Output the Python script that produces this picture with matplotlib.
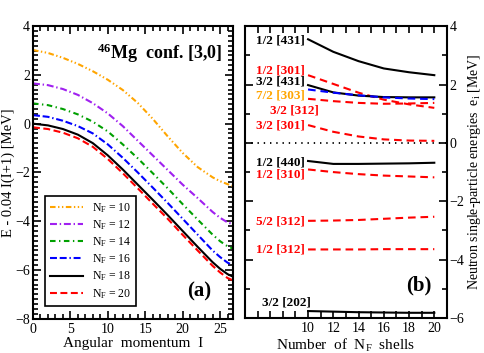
"""Rotational band of 46Mg and neutron single-particle energies vs N_F."""

import matplotlib
matplotlib.use('Agg')
import matplotlib.pyplot as plt
from matplotlib import ticker

plt.rcParams['font.family'] = ['Liberation Serif', 'DejaVu Serif']
plt.rcParams['mathtext.fontset'] = 'custom'
plt.rcParams['mathtext.rm'] = 'Liberation Serif'
plt.rcParams['mathtext.it'] = 'Liberation Serif:italic'
plt.rcParams['mathtext.bf'] = 'Liberation Serif:bold'
plt.rcParams['lines.scale_dashes'] = False

# ---- panel (a): E - 0.04 I(I+1) vs angular momentum
spin = [0, 2, 4, 6, 8, 10, 12, 14, 16, 18, 20, 22, 24, 25, 26, 26.7]
e_nf10 = [3.02, 2.90, 2.70, 2.45, 2.15, 1.80, 1.38, 0.85, 0.20, -0.52,
          -1.20, -1.78, -2.20, -2.36, -2.48, -2.55]
e_nf12 = [1.65, 1.58, 1.42, 1.18, 0.84, 0.42, -0.10, -0.70, -1.30, -1.90,
          -2.50, -3.05, -3.62, -3.86, -4.05, -4.12]
e_nf14 = [0.83, 0.76, 0.60, 0.38, 0.08, -0.32, -0.85, -1.42, -2.03, -2.65,
          -3.30, -3.93, -4.55, -4.82, -5.03, -5.12]
e_nf16 = [0.35, 0.28, 0.12, -0.10, -0.40, -0.85, -1.40, -2.00, -2.62, -3.25,
          -3.90, -4.55, -5.20, -5.47, -5.70, -5.80]
e_nf18 = [0.00, -0.07, -0.22, -0.45, -0.80, -1.30, -1.88, -2.50, -3.12, -3.75,
          -4.40, -5.05, -5.68, -5.95, -6.17, -6.27]
e_nf20 = [-0.15, -0.22, -0.37, -0.60, -0.95, -1.45, -2.03, -2.65, -3.28, -3.90,
          -4.56, -5.20, -5.83, -6.10, -6.33, -6.42]
nf_labels = ['10', '12', '14', '16', '18', '20']

# ---- panel (b): neutron single-particle energies vs number of shells
n_shells = [10, 12, 14, 16, 18, 20]
orbit_names = ['1/2 [431]', '1/2 [301]', '3/2 [431]', '7/2 [303]', '3/2 [312]',
               '3/2 [301]', '1/2 [440]', '1/2 [310]', '5/2 [312]', '1/2 [312]',
               '3/2 [202]']
orbit_energies = [
    [3.55, 3.12, 2.80, 2.55, 2.42, 2.32],
    [2.32, 2.02, 1.72, 1.48, 1.32, 1.20],
    [1.98, 1.73, 1.62, 1.57, 1.56, 1.56],
    [1.83, 1.72, 1.63, 1.56, 1.52, 1.50],
    [1.51, 1.43, 1.37, 1.34, 1.35, 1.37],
    [0.61, 0.38, 0.22, 0.12, 0.08, 0.07],
    [-0.62, -0.72, -0.72, -0.71, -0.70, -0.68],
    [-0.91, -1.00, -1.07, -1.12, -1.15, -1.18],
    [-2.67, -2.66, -2.64, -2.60, -2.56, -2.53],
    [-3.65, -3.65, -3.65, -3.64, -3.64, -3.64],
    [-5.76, -5.78, -5.80, -5.81, -5.82, -5.82],
]
orbit_label_y = [3.52, 2.49, 2.09, 1.61, 1.12, 0.61, -0.67, -1.07, -2.70,
                 -3.65, -5.48]
orbit_label_x = [9.76, 9.76, 9.76, 9.76, 10.87, 9.76, 9.76, 9.76, 9.76,
                 9.76, 10.2]

BAND_STYLES = [
    dict(color='#FFA500', dashes=(4, 1.8, 1, 1.8, 1, 1.8)),
    dict(color='#A020F0', dashes=(5, 2, 1, 2)),
    dict(color='#00A000', dashes=(4, 2.5, 1, 2.5)),
    dict(color='#0000FF', dashes=(5, 2, 5, 2, 1, 2)),
    dict(color='black', linestyle='-'),
    dict(color='#FF0000', dashes=(5, 2.5)),
]
LINE_COLORS = ['black', 'red', 'black', 'blue', 'red', 'red', 'black', 'red',
               'red', 'red', 'black']
LABEL_COLORS = ['black', 'red', 'black', '#FFA500', 'red', 'red', 'black',
                'red', 'red', 'red', 'black']


def style_axis(ax):
    for s in ax.spines.values():
        s.set_linewidth(1.5)
    ax.tick_params(which='both', direction='in', top=True, right=True,
                   labelsize=10, width=1.2, pad=2)
    ax.tick_params(which='major', length=6)
    ax.tick_params(which='minor', length=3.5)


def plot_band(ax):
    bands = [e_nf10, e_nf12, e_nf14, e_nf16, e_nf18, e_nf20]
    for vals, lab, st in zip(bands, nf_labels, BAND_STYLES):
        ax.plot(spin, vals, lw=1.5, label='N$_\\mathrm{F}$ = ' + lab, **st)
    ax.set_xlim(0, 26.7)
    ax.set_ylim(-8, 4)
    ax.xaxis.set_major_locator(ticker.MultipleLocator(5))
    ax.xaxis.set_minor_locator(ticker.MultipleLocator(1))
    ax.yaxis.set_major_locator(ticker.MultipleLocator(2))
    ax.yaxis.set_minor_locator(ticker.MultipleLocator(0.2))
    style_axis(ax)
    ax.tick_params(axis='x', pad=3)
    ax.set_xlabel('Angular  momentum  I', fontsize=11, labelpad=1)
    ax.set_ylabel('E - 0.04 I(I+1) [MeV]', fontsize=10.5)
    ax.yaxis.set_label_coords(-0.092, 0.5)
    ax.text(0.948, 0.887, '$^{\\mathbf{46}}$Mg  conf. [3,0]',
            transform=ax.transAxes, ha='right', va='baseline',
            fontsize=13, fontweight='bold')
    ax.text(0.83, 0.092, '(a)', transform=ax.transAxes, ha='center',
            va='center', fontsize=15, fontweight='bold')
    leg = ax.legend(loc='lower left', bbox_to_anchor=(0.06, 0.044),
                    fontsize=8.5, handlelength=2.8, labelspacing=0.28,
                    borderpad=0.45, borderaxespad=0, fancybox=False,
                    framealpha=1, edgecolor='black', handletextpad=0.7)
    leg.get_frame().set_linewidth(1.2)


def plot_orbits(ax):
    ax.axhline(0, color='black', lw=1.3, linestyle=(0, (1, 3.5)))
    for vals, c in zip(orbit_energies, LINE_COLORS):
        if c == 'black':
            ax.plot(n_shells, vals, color=c, lw=1.5)
        else:
            ax.plot(n_shells, vals, color=c, lw=1.5, dashes=(5.5, 3.5))
    for name, x, y, c in zip(orbit_names, orbit_label_x, orbit_label_y,
                             LABEL_COLORS):
        ax.text(x, y, name, color=c, ha='right', va='center', fontsize=9.5,
                fontweight='bold')
    ax.set_xlim(5, 21)
    ax.set_ylim(-6, 4)
    ax.set_xticks([6, 8, 10, 12, 14, 16, 18, 20])
    ax.set_xticklabels(['', '', '10', '12', '14', '16', '18', '20'])
    ax.xaxis.set_minor_locator(ticker.FixedLocator([7, 9, 11, 13, 15, 17, 19]))
    ax.yaxis.set_major_locator(ticker.MultipleLocator(2))
    ax.yaxis.set_minor_locator(ticker.MultipleLocator(1))
    style_axis(ax)
    ax.tick_params(which='both', labelleft=False, labelright=True)
    ax.tick_params(axis='x', which='both', length=5, pad=3)
    ax.yaxis.set_label_position('right')
    ax.set_ylabel('Neutron single-particle energies  e$_\\mathrm{i}$ [MeV]',
                  fontsize=10, labelpad=1)
    ax.set_xlabel('Number  of  N$_\\mathrm{F}$  shells', fontsize=11,
                  labelpad=1)
    ax.text(0.861, 0.11, '(b)', transform=ax.transAxes, ha='center',
            va='center', fontsize=15, fontweight='bold')


def main():
    fig = plt.figure(figsize=(4.85, 3.53), dpi=100)
    ax_a = fig.add_axes([0.068, 0.097, 0.412, 0.829])
    ax_b = fig.add_axes([0.505, 0.099, 0.4165, 0.827])
    plot_band(ax_a)
    plot_orbits(ax_b)
    fig.savefig('out.png', dpi=100)
    plt.close()


if __name__ == '__main__':
    main()
